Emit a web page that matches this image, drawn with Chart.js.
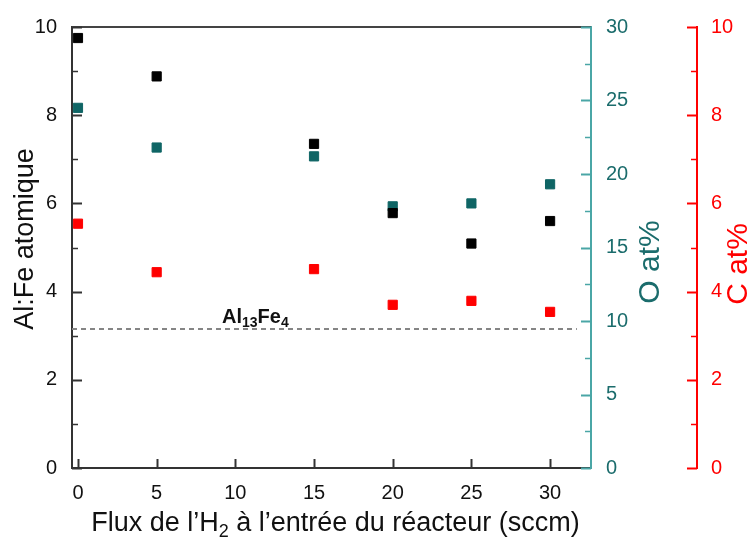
<!DOCTYPE html>
<html>
<head>
<meta charset="utf-8">
<script src="https://cdn.jsdelivr.net/npm/chart.js@4.4.1/dist/chart.umd.min.js"></script>
<style>
  html, body { margin: 0; padding: 0; background: #fff; }
  #wrap { width: 753px; height: 537px; }
</style>
</head>
<body>
<div id="wrap"><canvas id="chart"></canvas></div>
<script>
// H2 flow (sccm) and measured compositions
const flux = [0, 5, 15, 20, 25, 30];
const alFe = [9.75, 8.88, 7.35, 5.78, 5.09, 5.6];
const oxygen = [24.5, 21.8, 21.2, 17.8, 18.0, 19.3];
const carbon = [5.54, 4.44, 4.51, 3.70, 3.79, 3.54];

// Al13Fe4 reference ratio and the span of its dashed line
const al13fe4 = 3.15;
const refSpan = [-0.38, 31.7];

const xTicks = [0, 5, 10, 15, 20, 25, 30];
const alFeTicks = [0, 2, 4, 6, 8, 10];
const oTicks = [0, 5, 10, 15, 20, 25, 30];
const cTicks = [0, 2, 4, 6, 8, 10];

const FONT = "'Liberation Sans', Arial, sans-serif";
const TEAL = '#0f6565';
const TEAL_AXIS = '#4aa6a6';
const TEAL_TEXT = '#1b6c6c';
const RED = '#ff0000';

const pts = (ys) => flux.map((x, i) => ({ x: x, y: ys[i] }));
const steps = (min, max, step) => {
  const out = [];
  for (let v = min; v <= max + 1e-9; v += step) out.push(v);
  return out;
};
const setTicks = (vals) => (scale) => { scale.ticks = vals.map(v => ({ value: v })); };

// inward tick marks (major + minor) drawn on every axis
function drawTicks(ctx, scale, values, len, dir, color, width) {
  ctx.save();
  ctx.strokeStyle = color;
  ctx.lineWidth = width;
  values.forEach(v => {
    const p = Math.round(scale.getPixelForValue(v)) + 0.5;
    ctx.beginPath();
    if (scale.isHorizontal()) {
      ctx.moveTo(p, scale.top);
      ctx.lineTo(p, scale.top - len);
    } else {
      const x = dir > 0 ? scale.right : scale.left;
      ctx.moveTo(x, p);
      ctx.lineTo(x + dir * len, p);
    }
    ctx.stroke();
  });
  ctx.restore();
}

// draws a run of [text, isSubscript] pieces starting at x
function drawRuns(ctx, runs, x, y, size, weight) {
  runs.forEach(([t, sub]) => {
    const s = sub ? Math.round(size * 0.68) : size;
    ctx.font = `${weight} ${s}px ${FONT}`;
    ctx.fillText(t, x, sub ? y + size * 0.22 : y);
    x += ctx.measureText(t).width;
  });
}
function runsWidth(ctx, runs, size, weight) {
  let w = 0;
  runs.forEach(([t, sub]) => {
    const s = sub ? Math.round(size * 0.68) : size;
    ctx.font = `${weight} ${s}px ${FONT}`;
    w += ctx.measureText(t).width;
  });
  return w;
}

const decorations = {
  id: 'decorations',
  afterDraw(chart) {
    const { ctx, chartArea: a, scales } = chart;

    // top frame line
    ctx.save();
    ctx.strokeStyle = '#444';
    ctx.lineWidth = 2;
    ctx.beginPath();
    ctx.moveTo(a.left, a.top);
    ctx.lineTo(a.right, a.top);
    ctx.stroke();
    ctx.restore();

    drawTicks(ctx, scales.x, xTicks, 9, 0, '#333', 2);
    drawTicks(ctx, scales.y, alFeTicks, 10, 1, '#333', 2);
    drawTicks(ctx, scales.y, steps(1, 9, 2), 6, 1, '#333', 1.5);
    drawTicks(ctx, scales.o, oTicks, 10, -1, TEAL_AXIS, 2);
    drawTicks(ctx, scales.o, steps(2.5, 27.5, 5), 6, -1, TEAL_AXIS, 1.5);
    drawTicks(ctx, scales.c, cTicks, 10, -1, RED, 2);
    drawTicks(ctx, scales.c, steps(1, 9, 2), 6, -1, RED, 1.5);

    ctx.save();
    ctx.textBaseline = 'alphabetic';
    ctx.textAlign = 'left';

    // Al13Fe4 label above the dashed line
    ctx.fillStyle = '#111';
    const ly = scales.y.getPixelForValue(al13fe4) - 6;
    drawRuns(ctx, [['Al', false], ['13', true], ['Fe', false], ['4', true]],
      scales.x.getPixelForValue(9.15), ly, 20, 'bold');

    // x axis title
    const xRuns = [['Flux de l\u2019H', false], ['2', true], [' \u00e0 l\u2019entr\u00e9e du r\u00e9acteur (sccm)', false]];
    const xw = runsWidth(ctx, xRuns, 27, 'normal');
    ctx.fillStyle = '#111';
    drawRuns(ctx, xRuns, (a.left + a.right) / 2 + 4 - xw / 2, 531, 27, 'normal');

    // rotated y titles
    const vTitle = (text, x, y, size, color) => {
      ctx.save();
      ctx.translate(x, y);
      ctx.rotate(-Math.PI / 2);
      ctx.textAlign = 'center';
      ctx.textBaseline = 'middle';
      ctx.font = `${size}px ${FONT}`;
      ctx.fillStyle = color;
      ctx.fillText(text, 0, 0);
      ctx.restore();
    };
    vTitle('Al:Fe atomique', 26, 239, 27, '#111');
    vTitle('O at%', 651, 262, 30, TEAL_TEXT);
    vTitle('C at%', 739, 264, 30, RED);
    ctx.restore();
  }
};

const marker = (color) => ({
  pointStyle: 'rect',
  pointRadius: 6.5,
  pointHoverRadius: 6.5,
  borderWidth: 1,
  backgroundColor: color,
  borderColor: color,
  showLine: false
});

new Chart(document.getElementById('chart'), {
  type: 'scatter',
  data: {
    datasets: [
      Object.assign({ label: 'Al:Fe', data: pts(alFe), yAxisID: 'y' }, marker('#000')),
      Object.assign({ label: 'O at%', data: pts(oxygen), yAxisID: 'o' }, marker(TEAL)),
      Object.assign({ label: 'C at%', data: pts(carbon), yAxisID: 'c' }, marker(RED)),
      {
        label: 'Al13Fe4',
        type: 'line',
        data: refSpan.map(x => ({ x: x, y: al13fe4 })),
        yAxisID: 'y',
        borderColor: '#858585',
        borderWidth: 2,
        borderDash: [5, 4],
        pointRadius: 0,
        fill: false
      }
    ]
  },
  options: {
    responsive: true,
    maintainAspectRatio: false,
    animation: false,
    layout: { padding: { top: 22, left: 0, right: 0, bottom: 0 } },
    plugins: { legend: { display: false }, tooltip: { enabled: false } },
    scales: {
      x: {
        type: 'linear',
        min: refSpan[0],
        max: 32.6,
        afterBuildTicks: setTicks(xTicks),
        afterFit: (s) => { s.height = 69; },
        grid: { drawOnChartArea: false, drawTicks: false },
        border: { color: '#333', width: 2 },
        ticks: { color: '#111', padding: 13, font: { family: FONT, size: 20 } }
      },
      y: {
        position: 'left',
        min: 0,
        max: 10,
        afterBuildTicks: setTicks(alFeTicks),
        afterFit: (s) => { s.width = 72; },
        grid: { drawOnChartArea: false, drawTicks: false },
        border: { color: '#333', width: 2 },
        ticks: { color: '#111', padding: 15, font: { family: FONT, size: 20 } }
      },
      o: {
        position: 'right',
        weight: 0,
        min: 0,
        max: 30,
        afterBuildTicks: setTicks(oTicks),
        afterFit: (s) => { s.width = 106; },
        grid: { drawOnChartArea: false, drawTicks: false },
        border: { color: TEAL_AXIS, width: 2 },
        ticks: { color: TEAL_TEXT, padding: 15, font: { family: FONT, size: 20 } }
      },
      c: {
        position: 'right',
        weight: 1,
        min: 0,
        max: 10,
        afterBuildTicks: setTicks(cTicks),
        afterFit: (s) => { s.width = 56; },
        grid: { drawOnChartArea: false, drawTicks: false },
        border: { color: RED, width: 2 },
        ticks: { color: RED, padding: 14, font: { family: FONT, size: 20 } }
      }
    }
  },
  plugins: [decorations]
});
</script>
</body>
</html>
